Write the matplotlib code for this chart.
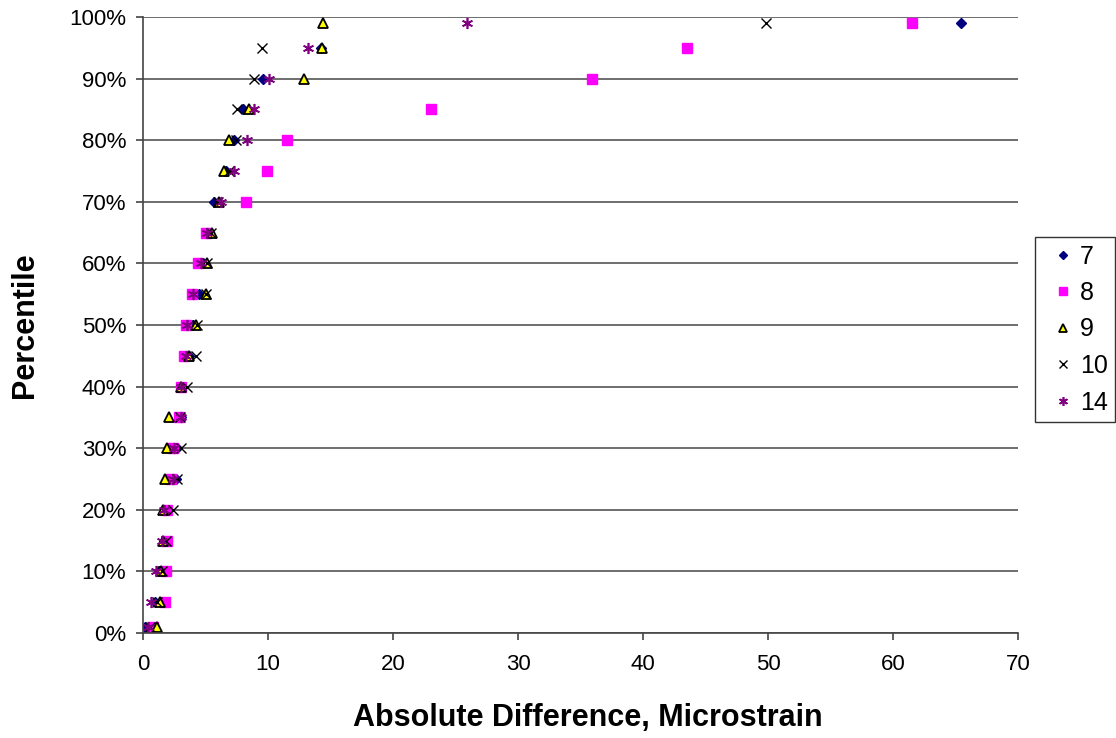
import numpy as np
import matplotlib
matplotlib.use('Agg')
import matplotlib.pyplot as plt
from matplotlib.ticker import PercentFormatter

plt.rcParams['font.family'] = ['Liberation Sans', 'DejaVu Sans']

percentiles = [1, 5, 10, 15, 20, 25, 30, 35, 40, 45, 50, 55, 60, 65, 70, 75, 80, 85, 90, 95, 99]

# absolute difference (microstrain) at each percentile, per gauge
gauge7 = [0.16, 0.96, 1.3, 1.7, 2.0, 2.6, 2.7, 3.0, 3.1, 3.7, 4.0, 4.5, 4.8, 5.3, 5.7, 6.6, 7.3, 8.0, 9.6, 14.2, 65.4]
gauge8 = [0.8, 1.76, 1.8, 1.9, 1.9, 2.2, 2.4, 2.9, 3.0, 3.3, 3.4, 3.9, 4.4, 5.0, 8.2, 9.9, 11.5, 23.0, 35.9, 43.5, 61.5]
gauge9 = [1.15, 1.36, 1.4, 1.6, 1.6, 1.76, 1.95, 2.1, 3.0, 3.7, 4.2, 5.0, 5.1, 5.5, 6.1, 6.5, 6.9, 8.5, 12.9, 14.3, 14.4]
gauge10 = [0.55, 1.1, 1.5, 1.8, 2.4, 2.7, 3.0, 2.95, 3.5, 4.2, 4.3, 5.0, 5.1, 5.4, 6.0, 6.9, 7.4, 7.5, 8.9, 9.5, 49.8]
gauge14 = [0.4, 0.6, 1.04, 1.5, 1.7, 2.4, 2.5, 3.0, 3.0, 3.4, 3.5, 4.0, 4.6, 5.1, 6.2, 7.3, 8.3, 8.9, 10.1, 13.2, 25.9]

series = [
    ('7', gauge7, dict(marker='D', color='#000080', markersize=5.5, markeredgecolor='#000080')),
    ('8', gauge8, dict(marker='s', color='#FF00FF', markersize=6.5, markeredgecolor='#FF00FF')),
    ('9', gauge9, dict(marker='^', color='#FFFF00', markersize=6.5, markeredgecolor='black', markeredgewidth=1.3)),
    ('10', gauge10, dict(marker='x', color='black', markersize=6.5, markeredgewidth=1.0)),
    ('14', gauge14, dict(marker=(6, 2, 0), color='#800080', markersize=8, markeredgewidth=1.2)),
]

fig = plt.figure(figsize=(11.16, 7.38), dpi=100)
ax = fig.add_axes([143/1116, 1 - 633/738, (1018 - 143)/1116, (633 - 17)/738])

for name, vals, style in series:
    ax.plot(vals, np.array(percentiles) / 100, linestyle='none', label=name, **style)

ax.set_xlim(0, 70)
ax.set_ylim(0, 1)
ax.set_xticks(np.arange(0, 71, 10))
ax.set_yticks(np.arange(0, 1.01, 0.1))
ax.yaxis.set_major_formatter(PercentFormatter(1.0, decimals=0))
ax.yaxis.grid(True, color='#555555', linewidth=1.2)
ax.set_axisbelow(True)
for s in ['top', 'right']:
    ax.spines[s].set_visible(False)
for s in ['left', 'bottom']:
    ax.spines[s].set_linewidth(1.2)
    ax.spines[s].set_color('#444444')
ax.tick_params(direction='out', length=5, width=1.2, color='#444444', labelsize=16, pad=7)
ax.tick_params(axis='x', pad=10)

# axis titles placed in figure pixels
fig.text(588/1116, 1 - 718/738, 'Absolute Difference, Microstrain', fontsize=22,
         fontweight='bold', ha='center', va='center')
fig.text(25/1116, 1 - 325/738, 'Percentile', fontsize=22, fontweight='bold',
         rotation=90, ha='center', va='center')

leg = fig.legend(loc='upper left', bbox_to_anchor=(1035/1116, 1 - 237/738), fontsize=18,
                 frameon=True, fancybox=False, edgecolor='black', handlelength=1.6,
                 handletextpad=-0.1, borderpad=0.3, labelspacing=0.5, markerscale=0.8,
                 borderaxespad=0)
leg.get_frame().set_linewidth(1.0)

fig.savefig('out.png', dpi=100)
